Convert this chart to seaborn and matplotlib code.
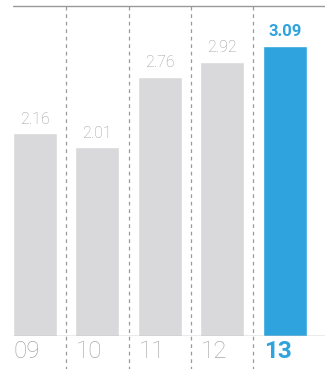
import matplotlib
matplotlib.use("Agg")
import matplotlib.pyplot as plt
import seaborn as sns
import pandas as pd

years = ["09", "10", "11", "12", "13"]
values = [2.16, 2.01, 2.76, 2.92, 3.09]
value_labels = ["2.16", "2.01", "2.76", "2.92", "3.09"]

GREY_BAR = "#d9d9db"
BLUE = "#2fa3de"
GREY_TEXT = "#9c9c9c"
LINE = "#9a9a9a"

sns.set_theme(style="white")
plt.rcParams["font.family"] = ["Roboto", "DejaVu Sans"]

fig = plt.figure(figsize=(3.25, 3.69), dpi=100)
ax = fig.add_axes([0, 33 / 369, 1, 330 / 369])

df = pd.DataFrame({"year": years, "value": values})
colors = [GREY_BAR] * (len(years) - 1) + [BLUE]
sns.barplot(data=df, x="year", y="value", hue="year", palette=colors,
            legend=False, width=0.704, saturation=1, ax=ax)

ax.set_xlim(-0.556, 4.644)
ax.set_ylim(0, 3.514)
for s in ax.spines.values():
    s.set_visible(False)
ax.set_yticks([])
ax.set_xlabel("")
ax.set_ylabel("")

# top and base rules, starting at the first bar's left edge
x0 = (-0.352 + 0.556) / 5.2
ax.axhline(0, xmin=x0, xmax=1, color=LINE, lw=1.0)
ax.axhline(3.514, xmin=x0, xmax=1, color=LINE, lw=1.0, clip_on=False)

# dashed separators running through the year labels
for i in range(len(years) - 1):
    ax.axvline(i + 0.5, ymin=-0.12, ymax=1, color=LINE, lw=0.9,
               ls=(0, (3, 3)), clip_on=False)

# value labels
last = len(years) - 1
for i, (v, lab) in enumerate(zip(values, value_labels)):
    hi = i == last
    ax.text(i, v + 0.07, lab, ha="center", va="bottom",
            fontsize=11.5 if not hi else 12,
            fontweight="bold" if hi else "light",
            color=BLUE if hi else GREY_TEXT)

# year labels, left-aligned with bars
ax.set_xticks([i - 0.335 for i in range(len(years))])
ax.set_xticklabels(years, ha="left")
ax.tick_params(axis="x", length=0, pad=3)
for i, t in enumerate(ax.get_xticklabels()):
    hi = i == last
    t.set_fontsize(17.5)
    t.set_color(BLUE if hi else "#a8a8a8")
    t.set_fontweight("bold" if hi else "light")

fig.savefig("out.png", dpi=100)
